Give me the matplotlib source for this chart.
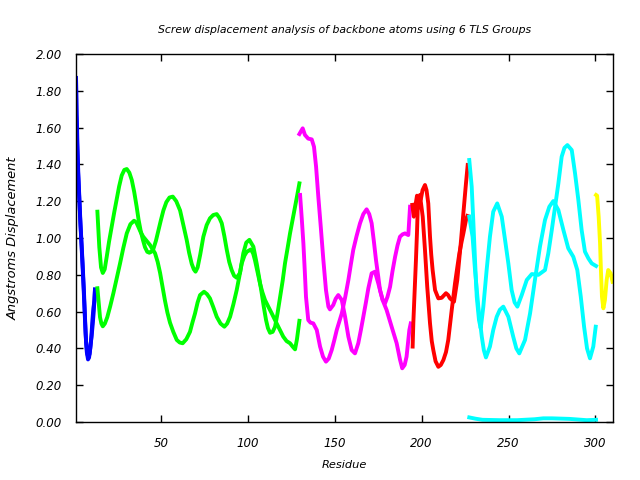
import matplotlib
matplotlib.use("Agg")
import matplotlib.pyplot as plt

# residue / displacement values, one list pair per trace
blue1_x = [1, 1.3, 1.7, 2.3, 3, 3.6, 4.3, 5, 5.6, 6.2, 6.8, 7.5, 8.1, 8.8, 9.4, 10, 10.6, 11.2, 11.9]
blue1_y = [1.87, 1.75, 1.55, 1.35, 1.20, 1.07, 0.95, 0.82, 0.70, 0.56, 0.43, 0.37, 0.35, 0.37, 0.42, 0.47, 0.53, 0.60, 0.72]
blue2_x = [1, 1.4, 1.9, 2.6, 3.3, 4, 4.7, 5.3, 5.9, 6.5, 7.2, 7.9, 8.5, 9.2, 9.8, 10.4, 11, 11.6, 11.9]
blue2_y = [1.67, 1.58, 1.42, 1.27, 1.12, 0.99, 0.86, 0.74, 0.61, 0.48, 0.38, 0.34, 0.35, 0.40, 0.46, 0.55, 0.62, 0.66, 0.72]

green1_x = [13.3, 14.4, 15.4, 16.4, 17.5, 18.7, 20, 21.5, 23, 24.4, 25.8, 27.3, 28.8, 30.2, 31.7, 33.1,
            34.5, 35.9, 37, 38.2, 39.5, 40.7, 42, 43.2, 44.3, 45.5, 47, 48.4, 49.8, 51.3, 53, 54.8, 56.7,
            58.7, 60.9, 62.8, 64.7, 66.1, 67.6, 68.8, 69.8, 71, 72.5, 74.3, 76.2, 78.1, 80, 82, 83.5, 84.9,
            86.4, 87.8, 89.2, 90.6, 92, 93.5, 95.4, 97.3, 99, 100.8, 103.1, 105, 106.5, 107.9, 109.2, 110.4,
            111.5, 112.7, 114.2, 115.6, 117, 118.5, 120, 121.3, 122.8, 124.2, 125.7, 127.1, 128.4, 129.6]
green1_y = [1.143, 0.95, 0.84, 0.81, 0.83, 0.90, 0.98, 1.06, 1.14, 1.21, 1.28, 1.34, 1.37, 1.375, 1.355, 1.315,
            1.25, 1.17, 1.10, 1.04, 0.99, 0.95, 0.925, 0.92, 0.925, 0.94, 0.985, 1.04, 1.095, 1.15, 1.195, 1.22, 1.225,
            1.20, 1.15, 1.07, 0.99, 0.92, 0.86, 0.83, 0.817, 0.84, 0.91, 1.007, 1.07, 1.107, 1.125, 1.13, 1.11, 1.08,
            1.01, 0.935, 0.87, 0.826, 0.795, 0.784, 0.81, 0.917, 0.975, 0.99, 0.953, 0.862, 0.78, 0.70, 0.62, 0.554,
            0.51, 0.485, 0.49, 0.518, 0.59, 0.68, 0.77, 0.862, 0.945, 1.025, 1.10, 1.17, 1.235, 1.297]
green2_x = [13.3, 14.8, 15.6, 16.4, 17.6, 19, 20.7, 22.5, 24.4, 26.3, 28.2, 30.2, 32.3, 34.4, 35.7, 36.9,
            38.3, 39.7, 41.6, 43.6, 45, 46.5, 48, 49.4, 50.8, 52.2, 53.6, 55.1, 57, 59, 60.7, 62.4, 64.5,
            66.6, 68, 69.5, 71, 72.4, 74.7, 76.4, 78.1, 80, 82, 84.2, 86.4, 88, 89.7, 91.6, 93.5, 95, 96.4,
            98, 99.3, 101.7, 103, 104, 105.5, 106.9, 108.3, 109.8, 111.8, 113.7, 115.1, 116.5, 118.4, 120.3,
            122.2, 124.2, 125.7, 127.1, 128.2, 129.6]
green2_y = [0.727, 0.57, 0.535, 0.52, 0.535, 0.57, 0.63, 0.70, 0.78, 0.86, 0.945, 1.025, 1.075, 1.094, 1.085, 1.06,
            1.03, 1.007, 0.985, 0.962, 0.94, 0.917, 0.87, 0.81, 0.735, 0.66, 0.595, 0.54, 0.49, 0.446, 0.432, 0.428, 0.45,
            0.49, 0.54, 0.59, 0.65, 0.69, 0.708, 0.695, 0.672, 0.625, 0.572, 0.535, 0.518, 0.535, 0.572, 0.64, 0.717, 0.79, 0.862,
            0.905, 0.925, 0.938, 0.915, 0.88, 0.815, 0.754, 0.705, 0.663, 0.625, 0.59, 0.563, 0.536, 0.50, 0.464,
            0.44, 0.428, 0.41, 0.395, 0.45, 0.55]

magenta1_x = [129.6, 130.5, 131.5, 132.8, 134.7, 136.7, 138, 139.2, 140.5, 141.9, 143.4, 144.9, 146.3, 147.2,
              149.1, 150.5, 152, 154, 155.9, 157.8, 159.7, 161.6, 163.5, 165, 166.4, 167.9, 169.3, 171.2, 173.1,
              175, 177.5, 179.8, 182.7, 185.6, 187.5, 188.8, 190.2, 191.3, 192.9, 193.7]
magenta1_y = [1.565, 1.58, 1.596, 1.56, 1.54, 1.536, 1.496, 1.388, 1.224, 1.061, 0.88, 0.717, 0.627, 0.612,
              0.636, 0.67, 0.69, 0.663, 0.572, 0.464, 0.391, 0.373, 0.428, 0.50, 0.572, 0.65, 0.727, 0.808, 0.817,
              0.754, 0.663, 0.609, 0.518, 0.428, 0.34, 0.292, 0.31, 0.355, 0.50, 0.536]
magenta2_x = [130, 131, 131.9, 132.7, 133.4, 134.7, 136, 137.6, 139.6, 141.5, 143.2, 144.9, 146.5, 148.2, 149.7,
              151.1, 154, 156, 157.8, 159.2, 160.6, 162.5, 164.5, 166.4, 168.3, 169.8, 171.2, 172.5, 173.7, 175,
              176, 177.5, 178.9, 180.3, 181.8, 183.2, 184.7, 186.1, 187.5, 189, 190.4, 192.3, 193.3]
magenta2_y = [1.234, 1.10, 0.97, 0.82, 0.68, 0.554, 0.54, 0.536, 0.50, 0.41, 0.355, 0.328, 0.345, 0.391, 0.445,
              0.50, 0.59, 0.68, 0.772, 0.855, 0.935, 1.01, 1.08, 1.13, 1.156, 1.13, 1.08, 0.98, 0.88, 0.79,
              0.717, 0.665, 0.645, 0.68, 0.735, 0.82, 0.898, 0.96, 1.007, 1.02, 1.025, 1.016, 1.17]

red1_x = [194.6, 195.5, 196.3, 197.3, 198.5, 199.5, 200.5, 201.9, 202.8, 203.8, 204.8, 205.5, 206.3, 207.7,
          209.6, 211.5, 213, 214, 215.2, 216.3, 218.6, 220.5, 222.5, 224, 225.5, 226.5]
red1_y = [1.18, 1.116, 1.17, 1.23, 1.20, 1.21, 1.26, 1.288, 1.26, 1.188, 1.007, 0.91, 0.826, 0.717,
          0.672, 0.675, 0.69, 0.70, 0.69, 0.672, 0.654, 0.772, 0.971, 1.134, 1.297, 1.397]
red2_x = [194.8, 195.2, 195.9, 196.7, 197.3, 197.7, 199, 200.6, 201.9, 203.2, 204.8, 205.8, 206.7, 208, 209.6,
          211, 212.5, 214, 215.3, 217.3, 219.2, 220.5, 221.7, 223, 224, 225.5, 226.3]
red2_y = [0.41, 0.54, 0.70, 0.88, 1.03, 1.152, 1.234, 1.116, 0.935, 0.735, 0.536, 0.44, 0.391, 0.33, 0.30,
          0.31, 0.337, 0.38, 0.446, 0.609, 0.754, 0.84, 0.917, 0.98, 1.025, 1.098, 1.12]

cyan1_x = [227.4, 228.8, 229.7, 230.7, 231.7, 233, 234, 235.5, 237.4, 239.3, 241.2, 243.5, 246.1, 248, 249.9,
           251.8, 253.5, 255.1, 257.6, 260.5, 263.4, 267.2, 271, 272.9, 274.9, 276.8, 278.7, 280.6, 282.2,
           283.9, 286.4, 288.3, 290.2, 292.1, 294, 296, 297.9, 300.4]
cyan1_y = [1.424, 1.279, 1.098, 0.88, 0.681, 0.554, 0.509, 0.627, 0.826, 1.007, 1.143, 1.188, 1.116, 0.99, 0.862,
           0.717, 0.65, 0.627, 0.69, 0.772, 0.804, 0.80, 0.826, 0.917, 1.043, 1.17, 1.297, 1.442, 1.49,
           1.505, 1.478, 1.351, 1.207, 1.043, 0.926, 0.889, 0.862, 0.848]
cyan2_x = [227.4, 229.3, 230.7, 232.6, 234.6, 235.8, 237, 239.3, 241.2, 243.2, 245, 247, 249.9, 252.7, 254.5,
           256.2, 259.5, 262.4, 265.2, 268.1, 271, 273.5, 275.8, 278.7, 281.6, 284.4, 287.3, 289.6, 291.6,
           293.5, 295.2, 296.9, 298.8, 300.2]
cyan2_y = [1.116, 1.007, 0.826, 0.627, 0.464, 0.39, 0.351, 0.41, 0.50, 0.572, 0.61, 0.627, 0.572, 0.464, 0.40,
           0.373, 0.446, 0.59, 0.772, 0.953, 1.098, 1.17, 1.201, 1.152, 1.043, 0.944, 0.898, 0.826, 0.681,
           0.518, 0.40, 0.346, 0.41, 0.518]
cyan3_x = [227.4, 231, 235, 245, 255, 265, 270, 275, 285, 295, 300.4]
cyan3_y = [0.025, 0.018, 0.012, 0.010, 0.010, 0.015, 0.020, 0.020, 0.017, 0.010, 0.012]

yellow_x = [300.4, 301, 301.9, 302.7, 303.2, 303.8, 304.6, 305.5, 306.5, 307.4, 308.8, 309.9]
yellow_y = [1.234, 1.23, 1.116, 0.971, 0.826, 0.681, 0.618, 0.663, 0.772, 0.826, 0.808, 0.762]

plt.rcParams['font.style'] = 'italic'
plt.rcParams['font.size'] = 8.5

fig = plt.figure(figsize=(6.4, 4.8), dpi=100)
ax = fig.add_axes([0.1188, 0.1208, 0.8386, 0.7667])

lw = 2.8
ax.plot(blue1_x, blue1_y, color='#0000ff', lw=lw)
ax.plot(blue2_x, blue2_y, color='#0000ff', lw=lw)
ax.plot(green1_x, green1_y, color='#00ff00', lw=lw)
ax.plot(green2_x, green2_y, color='#00ff00', lw=lw)
ax.plot(magenta1_x, magenta1_y, color='#ff00ff', lw=lw)
ax.plot(magenta2_x, magenta2_y, color='#ff00ff', lw=lw)
ax.plot(red1_x, red1_y, color='#ff0000', lw=lw)
ax.plot(red2_x, red2_y, color='#ff0000', lw=lw)
ax.plot(cyan1_x, cyan1_y, color='#00ffff', lw=lw)
ax.plot(cyan2_x, cyan2_y, color='#00ffff', lw=lw)
ax.plot(cyan3_x, cyan3_y, color='#00ffff', lw=lw, clip_on=False)
ax.plot(yellow_x, yellow_y, color='#ffff00', lw=lw)

ax.set_xlim(1, 310)
ax.set_ylim(0, 2)
ax.set_xticks([50, 100, 150, 200, 250, 300])
ax.set_yticks([i * 0.2 for i in range(11)])
ax.yaxis.set_major_formatter(matplotlib.ticker.FormatStrFormatter('%.2f'))
ax.tick_params(direction='in', top=True, right=True, length=5, width=1)
ax.tick_params(axis='y', pad=10)
ax.tick_params(axis='x', pad=11)
for s in ax.spines.values():
    s.set_linewidth(1)

ax.set_title('Screw displacement analysis of backbone atoms using 6 TLS Groups', pad=15, fontsize=7.8)
ax.set_xlabel('Residue', labelpad=7, fontsize=8.2)
ax.set_ylabel('Angstroms Displacement', labelpad=12, fontsize=9.4)

fig.savefig('out.png', dpi=100)
